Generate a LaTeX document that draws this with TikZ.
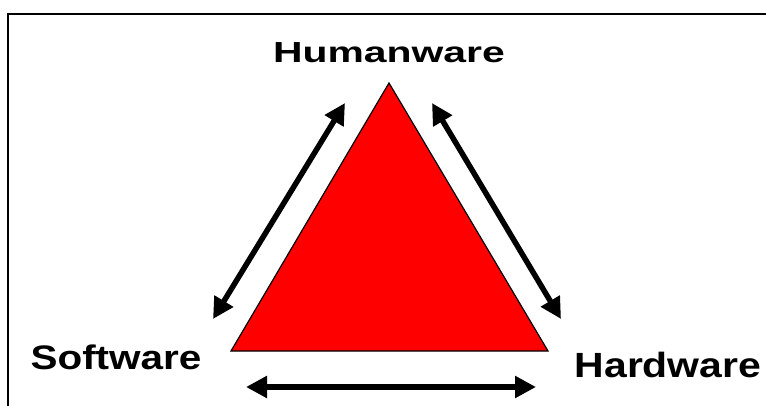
\documentclass[tikz,border=0pt]{standalone}
\usepackage{fontspec}
\setmainfont{Liberation Sans}
\usepackage{tikz}
\usetikzlibrary{arrows.meta}

\begin{document}
\begin{tikzpicture}[
  x=1pt, y=-1pt,
  ware/.style={font=\fontsize{34}{34}\selectfont\bfseries, inner sep=0pt, anchor=base},
  tri/.style={draw=black, line width=1.2pt, fill=red},
  arr/.style={{Triangle[length=21pt, width=21pt]}-{Triangle[length=21pt, width=21pt]}, line width=5.5pt}
]
\useasboundingbox (0,0) rectangle (766,406);
\draw[line width=2pt] (8,406) -- (8,14) -- (766,14);

\coordinate (top)   at (389,83);
\coordinate (left)  at (231,351);
\coordinate (right) at (548,351);
\draw[tri] (top) -- (left) -- (right) -- cycle;

\node[ware, font=\fontsize{29}{29}\selectfont\bfseries] at (389,63) (human) {\scalebox{1.41}[1]{Humanware}};
\node[ware] at (116,369) (soft) {\scalebox{1.19}[1]{Software}};
\node[ware, font=\fontsize{35}{35}\selectfont\bfseries] at (668,377) (hard) {\scalebox{1.17}[1]{Hardware}};

\coordinate (sw-a) at (213,319);
\coordinate (sw-b) at (345,103);
\coordinate (hw-a) at (432,103);
\coordinate (hw-b) at (561,319);
\coordinate (bt-a) at (246,387);
\coordinate (bt-b) at (536,387);

\draw[arr] (sw-a) -- (sw-b);
\draw[arr] (hw-a) -- (hw-b);
\draw[arr] (bt-a) -- (bt-b);
\end{tikzpicture}
\end{document}
